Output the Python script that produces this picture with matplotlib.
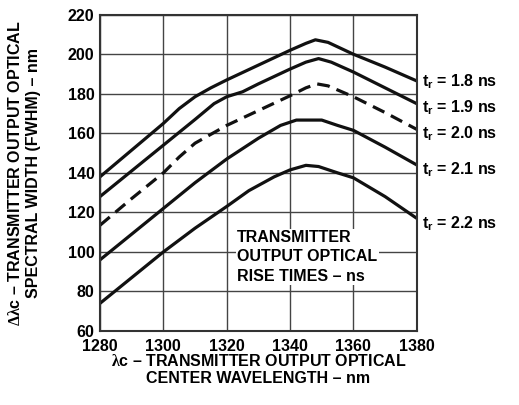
import numpy as np
import matplotlib
matplotlib.use('Agg')
import matplotlib.pyplot as plt

plt.rcParams['font.family'] = 'Liberation Sans'
plt.rcParams['font.weight'] = 'bold'
plt.rcParams['mathtext.fontset'] = 'custom'
plt.rcParams['mathtext.rm'] = 'Liberation Serif'
plt.rcParams['mathtext.bf'] = 'Liberation Sans:bold'

# curves (wavelength nm, width nm)
x18 = [1280, 1290, 1300, 1305, 1310, 1315, 1320, 1330, 1340, 1345, 1348, 1352, 1360, 1370, 1380]
y18 = [138, 151.5, 165, 172.5, 178.5, 183, 187, 194.5, 202, 205.5, 207.3, 206, 200, 193.5, 186.5]

x19 = [1280, 1290, 1300, 1310, 1316, 1320, 1325, 1330, 1340, 1345, 1349, 1353, 1360, 1370, 1380]
y19 = [128, 141, 154, 167, 175, 178.5, 181, 185, 192.5, 196, 197.8, 196, 191, 183, 175]

x20 = [1280, 1290, 1300, 1305, 1310, 1320, 1330, 1340, 1345, 1348.5, 1352, 1360, 1370, 1380]
y20 = [113.5, 127, 140, 148, 155, 164, 171.5, 179, 183, 185, 184, 178.5, 170.5, 162]

x21 = [1280, 1290, 1300, 1310, 1320, 1330, 1337, 1342, 1350, 1355, 1360, 1370, 1380]
y21 = [96, 109, 122, 135, 147, 157.5, 164, 166.7, 166.7, 164, 161.5, 153, 144]

x22 = [1280, 1290, 1300, 1310, 1320, 1327, 1335, 1340, 1345, 1349, 1355, 1360, 1370, 1380]
y22 = [74, 87, 100, 112, 123, 131, 138, 141.5, 143.8, 143.2, 140, 137.5, 128, 117]

labels = ['1.8', '1.9', '2.0', '2.1', '2.2']
label_y = [186, 173, 159.6, 141.4, 114.5]

fs = 11.5

fig = plt.figure(figsize=(5.19, 4.05), dpi=100)
ax = fig.add_axes([0.1927, 0.1827, 0.6103, 0.781])

ax.set_xlim(1280, 1380)
ax.set_ylim(60, 220)
ax.set_xticks(np.arange(1280, 1381, 20))
ax.set_yticks(np.arange(60, 221, 20))
ax.grid(True, color='#444444', linewidth=1.0)
ax.tick_params(axis='y', length=0, labelsize=fs, pad=4)
ax.tick_params(axis='x', length=0, labelsize=fs, pad=6)
for s in ax.spines.values():
    s.set_linewidth(1.5)
    s.set_color('#333333')

ax.plot(x18, y18, color='#111111', lw=2.3, solid_capstyle='butt')
ax.plot(x19, y19, color='#111111', lw=2.3, solid_capstyle='butt')
ax.plot(x20, y20, color='#111111', lw=2.3, dashes=(4, 2.3))
ax.plot(x21, y21, color='#111111', lw=2.3, solid_capstyle='butt')
ax.plot(x22, y22, color='#111111', lw=2.3, solid_capstyle='butt')

for lab, yy in zip(labels, label_y):
    ax.text(1381.5, yy, r'$\mathbf{t_r}$ = ' + lab + ' ns', fontsize=fs,
            fontweight='bold', va='center', ha='left', clip_on=False)

ax.text(1323.3, 97.5, 'TRANSMITTER\nOUTPUT OPTICAL\nRISE TIMES – ns', fontsize=fs,
        fontweight='bold', ha='left', va='center', linespacing=1.35,
        bbox=dict(facecolor='white', edgecolor='none', pad=1.0), zorder=5)

fig.text(0.498, 0.087, r'$\mathrm{\lambda}$c – TRANSMITTER OUTPUT OPTICAL' + '\nCENTER WAVELENGTH – nm',
         ha='center', va='center', fontsize=fs, fontweight='bold', linespacing=1.15)
fig.text(0.047, 0.573, r'$\mathrm{\Delta\lambda}$c – TRANSMITTER OUTPUT OPTICAL' + '\nSPECTRAL WIDTH (FWHM) – nm',
         ha='center', va='center', fontsize=fs, fontweight='bold', rotation=90, linespacing=1.25)

fig.savefig('out.png', dpi=100)
